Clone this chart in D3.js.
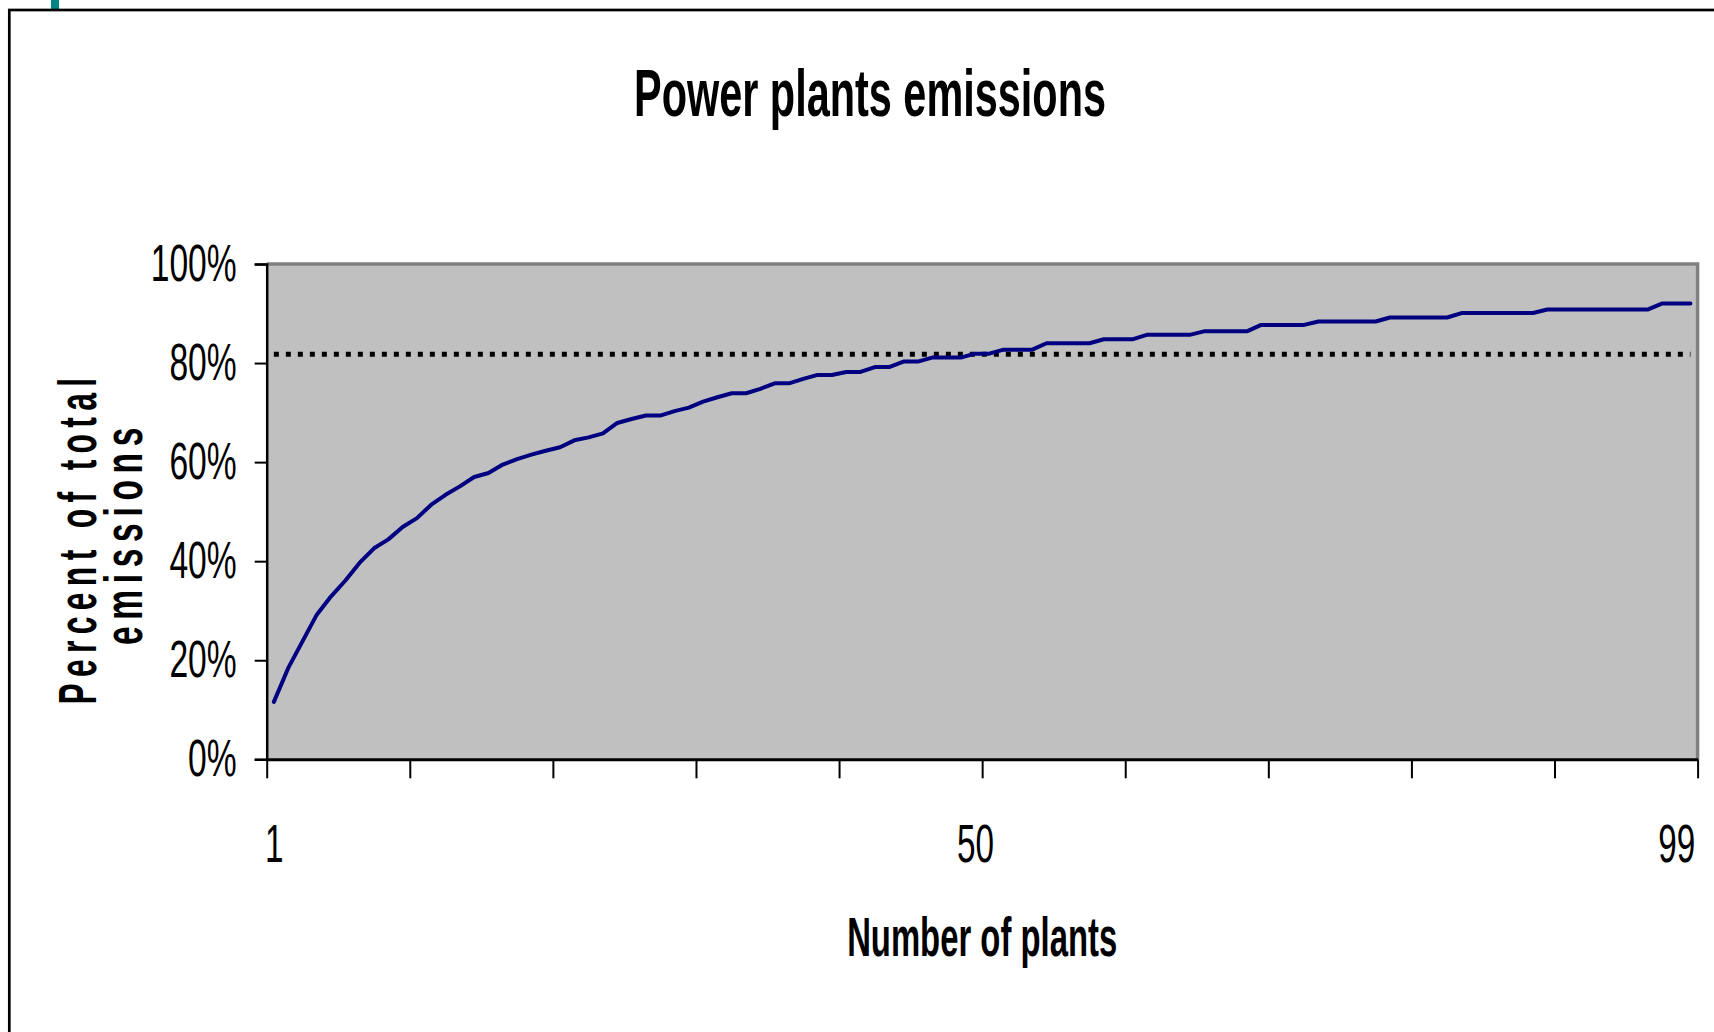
<!DOCTYPE html>
<html>
<head>
<meta charset="utf-8">
<script src="https://cdn.jsdelivr.net/npm/d3@7"></script>
<style>
  html, body { margin: 0; padding: 0; background: #fff; }
  svg { display: block; }
</style>
</head>
<body>
<div id="chart"></div>
<script>
document.addEventListener('DOMContentLoaded', function() {

    // plant rank (1..100) and cumulative share of total emissions, %
    const plants = d3.range(1, 101);
    const cumulativeShare = [
        11.6, 18.4, 23.8, 29.2, 32.9, 36.1, 39.7, 42.6, 44.4, 46.9,
        48.7, 51.4, 53.4, 55.1, 57.0, 57.8, 59.5, 60.6, 61.5, 62.3,
        63.0, 64.4, 65.0, 65.8, 67.9, 68.7, 69.4, 69.4, 70.3, 71.0,
        72.2, 73.1, 73.9, 73.9, 74.8, 75.9, 75.9, 76.8, 77.6, 77.6,
        78.2, 78.2, 79.2, 79.2, 80.3, 80.3, 81.1, 81.1, 81.1, 81.9,
        81.9, 82.7, 82.7, 82.7, 84.0, 84.0, 84.0, 84.0, 84.8, 84.8,
        84.8, 85.7, 85.7, 85.7, 85.7, 86.4, 86.4, 86.4, 86.4, 87.7,
        87.7, 87.7, 87.7, 88.4, 88.4, 88.4, 88.4, 88.4, 89.2, 89.2,
        89.2, 89.2, 89.2, 90.1, 90.1, 90.1, 90.1, 90.1, 90.1, 90.8,
        90.8, 90.8, 90.8, 90.8, 90.8, 90.8, 90.8, 92.0, 92.0, 92.0
    ];
    const thresholdShare = 81.8;   // dotted reference line

    const yTicks = [0, 20, 40, 60, 80, 100];
    const xTickBounds = d3.range(0, 101, 10).map(d => d + 0.5);
    const xLabels = [1, 50, 99];

    const width = 1714, height = 1032;
    const plot = { left: 266.7, right: 1697.6, top: 264, bottom: 759.3 };
    const narrow = '"Liberation Sans Narrow", "Arial Narrow", "Liberation Sans", Arial, sans-serif';

    const svg = d3.select("#chart").append("svg")
        .attr("width", width)
        .attr("height", height);

    // slide frame and the little teal tab on top
    svg.append("rect")
        .attr("x", 51).attr("y", 0).attr("width", 8).attr("height", 10)
        .attr("fill", "#008585");
    svg.append("rect")
        .attr("x", 9.3).attr("y", 10).attr("width", 2000).attr("height", 2000)
        .attr("fill", "none").attr("stroke", "#000").attr("stroke-width", 2.7);

    const x = d3.scaleLinear().domain([0.5, 100.5]).range([plot.left, plot.right]);
    const y = d3.scaleLinear().domain([0, 100]).range([plot.bottom, plot.top]);

    // plot area
    svg.append("rect")
        .attr("x", plot.left).attr("y", plot.top)
        .attr("width", plot.right - plot.left).attr("height", plot.bottom - plot.top)
        .attr("fill", "#c0c0c0");
    svg.append("path")
        .attr("d", `M${plot.left},${plot.top}H${plot.right}V${plot.bottom}`)
        .attr("fill", "none").attr("stroke", "#808080").attr("stroke-width", 3.5);

    // squeeze text horizontally so that it keeps its height but matches the picture width
    function squash(node, factor) {
        const w = node.getComputedTextLength();
        d3.select(node).attr("textLength", w * factor).attr("lengthAdjust", "spacingAndGlyphs");
    }

    // y axis
    const yAxis = svg.append("g")
        .attr("transform", `translate(${plot.left},0)`)
        .call(d3.axisLeft(y).tickValues(yTicks).tickFormat(d => d + "%").tickSize(12).tickPadding(18));
    yAxis.select(".domain").attr("stroke", "#000").attr("stroke-width", 2.5);
    yAxis.selectAll(".tick line").attr("stroke", "#000").attr("stroke-width", 2);
    yAxis.selectAll(".tick text")
        .attr("dy", null).attr("y", 16)
        .attr("fill", "#000")
        .style("font-family", narrow).style("font-size", "52px");
    const yRef = yAxis.selectAll(".tick text").filter(d => d === 100).node();
    const yK = 86 / yRef.getComputedTextLength();
    yAxis.selectAll(".tick text").each(function() { squash(this, yK); });

    // x axis: tick marks every ten plants, labels at 1, 50 and 99
    const xAxis = svg.append("g")
        .attr("transform", `translate(0,${plot.bottom})`)
        .call(d3.axisBottom(x).tickValues(xTickBounds).tickFormat("").tickSize(19).tickSizeOuter(0));
    xAxis.select(".domain").attr("stroke", "#000").attr("stroke-width", 3);
    xAxis.selectAll(".tick line").attr("stroke", "#000").attr("stroke-width", 2);

    const xLabelAxis = svg.append("g")
        .attr("transform", `translate(0,${plot.bottom})`)
        .call(d3.axisBottom(x).tickValues(xLabels).tickFormat(d3.format("d")).tickSize(0));
    xLabelAxis.select(".domain").remove();
    xLabelAxis.selectAll(".tick text")
        .attr("dy", null).attr("y", 103)
        .attr("fill", "#000")
        .style("font-family", narrow).style("font-size", "54px");
    const xRef = xLabelAxis.selectAll(".tick text").filter(d => d === 99).node();
    const xK = 37 / xRef.getComputedTextLength();
    xLabelAxis.selectAll(".tick text").each(function() { squash(this, xK); });

    // dotted threshold line across all plants
    svg.append("path")
        .datum(plants)
        .attr("d", d3.line().x(d => x(d)).y(() => y(thresholdShare)))
        .attr("fill", "none")
        .attr("stroke", "#000")
        .attr("stroke-width", 5)
        .attr("stroke-dasharray", "5 7");

    // cumulative emissions line
    svg.append("path")
        .datum(plants)
        .attr("d", d3.line().x(d => x(d)).y((d, i) => y(cumulativeShare[i])))
        .attr("fill", "none")
        .attr("stroke", "#000080")
        .attr("stroke-width", 4)
        .attr("stroke-linejoin", "round")
        .attr("stroke-linecap", "round");

    // titles
    svg.append("text")
        .attr("x", 870).attr("y", 116)
        .attr("text-anchor", "middle")
        .attr("textLength", 472).attr("lengthAdjust", "spacingAndGlyphs")
        .style("font-family", narrow).style("font-weight", "bold").style("font-size", "66px")
        .text("Power plants emissions");

    svg.append("text")
        .attr("x", (plot.left + plot.right) / 2).attr("y", 956)
        .attr("text-anchor", "middle")
        .attr("textLength", 270).attr("lengthAdjust", "spacingAndGlyphs")
        .style("font-family", narrow).style("font-weight", "bold").style("font-size", "55px")
        .text("Number of plants");

    const yTitle = [
        { text: "Percent of total", base: 96, mid: 538, len: 333 },
        { text: "emissions", base: 142, mid: 533, len: 224 }
    ];
    svg.selectAll(".ytitle")
        .data(yTitle)
        .enter().append("text")
        .attr("class", "ytitle")
        .attr("transform", d => `translate(${d.base},${d.mid}) rotate(-90)`)
        .attr("text-anchor", "middle")
        .attr("textLength", d => d.len).attr("lengthAdjust", "spacingAndGlyphs")
        .style("font-family", narrow).style("font-weight", "bold").style("font-size", "54px")
        .style("letter-spacing", "0.2em")
        .text(d => d.text);
});
</script>
</body>
</html>
